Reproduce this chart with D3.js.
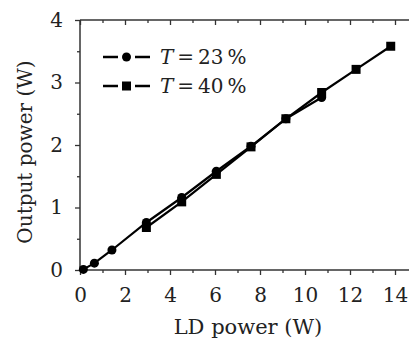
<!DOCTYPE html>
<html>
<head>
<meta charset="utf-8">
<script src="https://cdn.jsdelivr.net/npm/d3@7"></script>
<style>
  body { margin: 0; background: #fff; }
  svg text { font-family: "DejaVu Serif", "Liberation Serif", serif; fill: #222; }
</style>
</head>
<body>
<div id="chart"></div>
<script>
// Data
const ldPower23 = [0.15, 0.64, 1.42, 2.95, 4.52, 6.06, 7.6, 9.15, 10.74];
const outPower23 = [0.01, 0.11, 0.32, 0.76, 1.16, 1.58, 1.98, 2.42, 2.76];
const ldPower40 = [2.95, 4.52, 6.06, 7.6, 9.15, 10.74, 12.27, 13.81];
const outPower40 = [0.68, 1.09, 1.53, 1.97, 2.42, 2.84, 3.21, 3.58];
const xMajorTicks = [0, 2, 4, 6, 8, 10, 12, 14];
const xMinorTicks = [1, 3, 5, 7, 9, 11, 13];
const yMajorTicks = [0, 1, 2, 3, 4];
const yMinorTicks = [0.5, 1.5, 2.5, 3.5];
const legendLabels = ["23", "40"];

const width = 409, height = 340;
const svg = d3.select("#chart").append("svg")
    .attr("width", width)
    .attr("height", height);

// Scales
const x = d3.scaleLinear().domain([0, 14]).range([80, 395]);
const y = d3.scaleLinear().domain([0, 4]).range([270, 20]);

const axisColor = "#333";

// Bottom axis
const xAxis = svg.append("g")
    .attr("transform", "translate(0," + y(0) + ")")
    .call(d3.axisBottom(x).tickValues(xMajorTicks).tickSize(5).tickPadding(13)
        .tickFormat(d3.format("d")));
xAxis.select(".domain").remove();
xAxis.selectAll("text").attr("font-size", 20).attr("dy", "0.72em");

svg.append("g")
    .attr("transform", "translate(0," + y(0) + ")")
    .call(d3.axisBottom(x).tickValues(xMinorTicks).tickSize(3).tickFormat(""))
    .select(".domain").remove();

// Top axis (ticks pointing inward)
svg.append("g")
    .attr("transform", "translate(0," + y(4) + ")")
    .call(d3.axisBottom(x).tickValues(xMajorTicks).tickSize(5).tickFormat(""))
    .select(".domain").remove();
svg.append("g")
    .attr("transform", "translate(0," + y(4) + ")")
    .call(d3.axisBottom(x).tickValues(xMinorTicks).tickSize(3).tickFormat(""))
    .select(".domain").remove();

// Left axis
const yAxis = svg.append("g")
    .attr("transform", "translate(" + x(0) + ",0)")
    .call(d3.axisLeft(y).tickValues(yMajorTicks).tickSize(5).tickPadding(12)
        .tickFormat(d3.format("d")));
yAxis.select(".domain").remove();
yAxis.selectAll("text").attr("font-size", 20);

svg.append("g")
    .attr("transform", "translate(" + x(0) + ",0)")
    .call(d3.axisLeft(y).tickValues(yMinorTicks).tickSize(3).tickFormat(""))
    .select(".domain").remove();

svg.selectAll(".tick line").attr("stroke", axisColor).attr("stroke-width", 1.3);

// Frame lines (the right side runs off the picture)
[[0, 0, 14.8, 0], [0, 4, 14.8, 4], [0, 0, 0, 4]].forEach(s => {
    svg.append("line")
        .attr("x1", x(s[0])).attr("y1", y(s[1]))
        .attr("x2", x(s[2])).attr("y2", y(s[3]))
        .attr("stroke", axisColor).attr("stroke-width", 1.5);
});

// Series
const data23 = ldPower23.map((d, i) => ({ x: d, y: outPower23[i] }));
const data40 = ldPower40.map((d, i) => ({ x: d, y: outPower40[i] }));

const line = d3.line().x(d => x(d.x)).y(d => y(d.y));

svg.append("path")
    .datum(data23)
    .attr("d", line)
    .attr("fill", "none")
    .attr("stroke", "#000")
    .attr("stroke-width", 2.2);

svg.append("path")
    .datum(data40)
    .attr("d", line)
    .attr("fill", "none")
    .attr("stroke", "#000")
    .attr("stroke-width", 2.2);

svg.selectAll(".dot23")
    .data(data23)
    .enter().append("circle")
    .attr("class", "dot23")
    .attr("cx", d => x(d.x))
    .attr("cy", d => y(d.y))
    .attr("r", 4.5)
    .attr("fill", "#000");

svg.selectAll(".sq40")
    .data(data40)
    .enter().append("rect")
    .attr("class", "sq40")
    .attr("x", d => x(d.x) - 4.5)
    .attr("y", d => y(d.y) - 4.5)
    .attr("width", 9)
    .attr("height", 9)
    .attr("fill", "#000");

// Legend
const legend = svg.append("g");
legendLabels.forEach((label, i) => {
    const ly = 57 + i * 29;
    legend.append("line")
        .attr("x1", 103).attr("x2", 118).attr("y1", ly).attr("y2", ly)
        .attr("stroke", "#000").attr("stroke-width", 2.5);
    legend.append("line")
        .attr("x1", 135).attr("x2", 150).attr("y1", ly).attr("y2", ly)
        .attr("stroke", "#000").attr("stroke-width", 2.5);
    if (i === 0) {
        legend.append("circle").attr("cx", 126.5).attr("cy", ly).attr("r", 4.5).attr("fill", "#000");
    } else {
        legend.append("rect").attr("x", 122).attr("y", ly - 4.5)
            .attr("width", 9).attr("height", 9).attr("fill", "#000");
    }
    const t = legend.append("text")
        .attr("x", 160)
        .attr("y", ly + 7)
        .attr("font-size", 20);
    t.append("tspan").attr("font-style", "italic").text("T");
    t.append("tspan").text("\u2009=\u2009" + label + "\u2009%");
});

// Axis titles
svg.append("text")
    .attr("x", 248)
    .attr("y", 334)
    .attr("text-anchor", "middle")
    .attr("font-size", 21)
    .text("LD power (W)");

svg.append("text")
    .attr("transform", "translate(32,152) rotate(-90)")
    .attr("text-anchor", "middle")
    .attr("font-size", 20)
    .text("Output power (W)");
</script>
</body>
</html>
